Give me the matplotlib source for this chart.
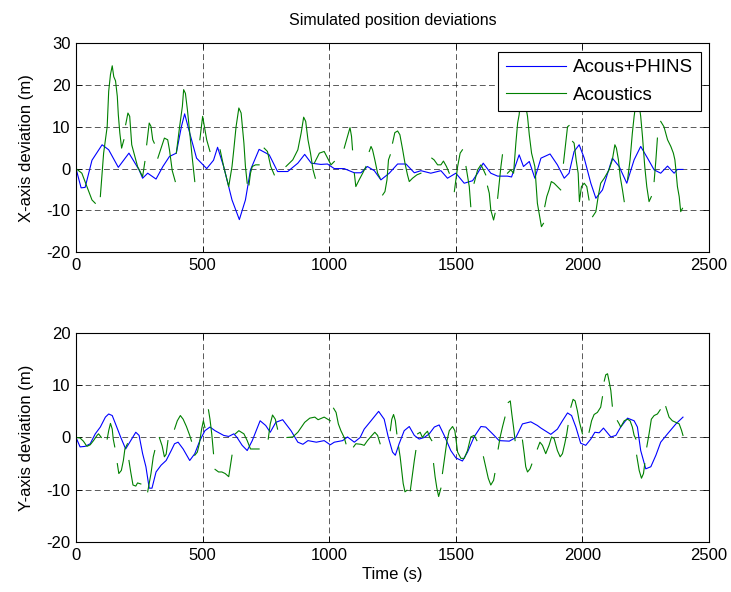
import numpy as np
import matplotlib.pyplot as plt

nan = np.nan

# X-axis deviation, Acous+PHINS (blue)
x_pos_t = [0, 20, 36, 63, 103, 129, 167, 209, 249, 263, 283, 316, 343, 369, 396, 416, 429, 449, 476,
           516, 543, 559, 583, 616, 645, 669, 689, 723, 763, 796, 836, 876, 903, 929, 967, 993, 1020,
           1059, 1099, 1125, 1151, 1178, 1204, 1237, 1270, 1303, 1336, 1362, 1401, 1441, 1467, 1500,
           1533, 1566, 1586, 1608, 1638, 1665, 1704, 1720, 1750, 1767, 1790, 1812, 1836, 1872, 1901,
           1928, 1947, 1967, 1987, 2007, 2033, 2053, 2079, 2118, 2145, 2175, 2204, 2230, 2257, 2283,
           2309, 2336, 2362, 2375, 2397]
x_pos_v = [0, -4.6, -4.5, 2, 5.7, 4.5, 0.3, 3.7, -0.3, -2.3, -1.1, -2.5, 0.5, 2.9, 3.7, 10, 13.1, 8.5, 2.5,
           0, 2, 5.1, 0.5, -7.5, -12.2, -7.5, -0.3, 4.6, 3.3, -0.7, -0.7, 1.3, 3.4, 1.3, 1, 1.1, 0,
           0, -1, -1, 0.5, -0.5, -2.7, -1.1, 1.1, 1.1, -1, -0.5, -1.1, -0.5, -2.3, -1.1,
           -3.5, -2.9, -1.1, 1.3, -1.1, -1.8, -1.8, -2, 3.3, 0.5, 1.7, -2.3, 2.5, 3.5, 0.9,
           -2.3, -1.1, 4.1, 5.7, 2.5, -3.5, -7.1, -5.1, 2.5, 0.5, -3.5, 2.1, 5.3, 2.5, -0.3,
           -1.1, 0.6, -1.1, -0.2, -0.2]

# X-axis deviation, Acoustics only (green, broken where no fix)
x_ac_t = [0, 23, 43, 63, 76, nan,
          96, 109, 123, 129, 136, 143, 149, 156, 163, 167, 173, 180, 189, nan,
          196, 205, 212, 220, 229, 243, 263, 272, nan,
          279, 289, 296, 303, 309, nan,
          323, 336, 349, 362, 369, 380, 392, nan,
          396, 409, 420, 425, 432, 440, 449, 460, 469, nan,
          489, 500, 507, 516, 529, nan,
          569, 583, 603, 616, 623, 632, 643, 652, 663, 669, 676, nan,
          683, 689, 696, 709, 723, nan,
          743, 756, 769, 783, nan,
          829, 856, 876, 889, 899, 907, 916, 926, 936, 945, nan,
          941, 961, 980, 997, 1007, 1020, nan,
          1059, 1072, 1082, 1088, 1092, nan,
          1099, 1105, 1118, 1132, 1145, nan,
          1158, 1165, 1171, 1180, 1191, 1201, nan,
          1211, 1220, 1228, 1234, 1241, nan,
          1250, 1259, 1270, 1279, 1290, 1299, 1309, 1316, 1329, 1346, 1362, nan,
          1405, 1414, 1428, 1441, 1451, 1463, 1474, nan,
          1494, 1500, 1507, 1517, 1526, nan,
          1540, 1553, 1559, nan,
          1572, 1586, 1599, 1609, 1618, nan,
          1625, 1632, 1638, 1649, 1655, nan,
          1665, 1671, 1678, 1684, nan,
          1704, 1717, 1728, 1737, 1744, 1750, 1757, 1770, 1783, 1790, 1799, 1812, 1822, 1829, 1838, 1846, nan,
          1851, 1859, 1868, 1877, 1888, 1901, 1914, nan,
          1925, 1934, 1941, 1947, nan,
          1961, 1967, 1975, 1983, 1988, 1996, 2007, 2017, 2026, nan,
          2040, 2053, 2062, 2072, 2086, 2105, 2118, 2128, 2134, 2142, 2149, 2158, 2165, nan,
          2178, 2188, 2197, 2204, 2212, 2222, 2230, 2237, 2246, 2254, 2263, 2272, nan,
          2283, 2290, 2296, nan,
          2309, 2322, 2336, 2349, 2359, 2365, 2369, 2375, 2382, 2388, 2395]
x_ac_v = [0, -1.1, -4.3, -7.5, -8.3, nan,
          -6.7, 3.7, 10, 18.5, 22.5, 24.6, 22, 21, 17.3, 12.9, 8.5, 4.9, 6.9, nan,
          10.5, 13.3, 12.5, 5.7, 3.7, 0.5, -1.9, 1.7, nan,
          5.7, 10.9, 10.1, 6.9, 6.1, nan,
          2.5, 4.9, 7.3, 6.9, 4.5, -0.5, -3.1, nan,
          3.7, 10, 14.9, 18.9, 18, 14, 8.5, 2, -3.1, nan,
          6.9, 12.5, 10, 6.9, 4.1, nan,
          4.5, 0.5, -4.3, 0.5, 4.5, 10, 14.5, 13.3, 6.1, 0.5, -3.5, nan,
          -3.9, -1.1, 0.5, 0.9, 0.9, nan,
          4.9, 4.1, 0.5, -1.5, nan,
          0.5, 2.1, 4.5, 8.5, 12.3, 11.3, 6.9, 3.7, -0.3, -2.3, nan,
          1.3, 3.7, 4.1, 2.1, 0.9, 1.7, nan,
          4.9, 7.7, 9.8, 7.7, 4.5, nan,
          -1.1, -4.3, -2.7, -1.1, 0.5, nan,
          4.1, 5.3, 4.5, 2.1, -1.1, -2.3, nan,
          -6.3, -5.5, -2.7, 2.1, 3.3, nan,
          6.1, 8.6, 9, 8.1, 4.5, 1.3, -1.5, -3.1, -2.3, -1.5, -1.1, nan,
          2.5, 2.1, 0.9, 0.9, 1.8, 0.5, -1.1, nan,
          -5.5, -2.7, 0.5, 3.7, 4.5, nan,
          0.5, -4.3, -9.1, nan,
          -3.5, -0.3, 0.9, -0.3, -1.5, nan,
          -4.2, -5.9, -9.9, -12.3, -10.7, nan,
          -7.1, -3.5, 0.5, 3.3, nan,
          -1.1, -0.3, -1.1, 6.1, 10.9, 12.9, 18, 17, 12.5, 8.1, 3.7, 0.5, -8.3, -10.7, -13.9, -13.1, nan,
          -9.1, -6.7, -5.1, -3.1, -3.5, -4.3, -5.1, nan,
          1.3, 6.1, 10, 10.3, nan,
          6.5, 6.1, 2.1, -1.1, -7.9, -4.3, -3.5, -4.3, -7.5, nan,
          -11.5, -10.3, -6.7, -3.5, -2.3, -0.3, 2.1, 5.7, 4.9, 2.1, -1.9, -5.1, -7.9, nan,
          -2.7, 2.1, 8.5, 12.5, 16, 16, 12.5, 7.7, 0.5, -4.3, -7.9, -6.7, nan,
          -3.1, 2.1, 7.3, nan,
          11.3, 10, 6.9, 5.3, 3.7, 2.1, -0.3, -4.3, -6.7, -10.3, -9.5]

# Y-axis deviation, Acous+PHINS (blue)
y_pos_t = [0, 16, 36, 56, 76, 96, 116, 129, 143, 156, 176, 196, 216, 236, 249, 263, 276, 289, 300, 316,
           336, 356, 376, 389, 403, 423, 449, 469, 489, 509, 529, 549, 583, 603, 623, 636, 656, 676,
           696, 727, 749, 767, 789, 816, 849, 876, 896, 916, 949, 980, 1004, 1020, 1053, 1072, 1099,
           1122, 1138, 1165, 1195, 1217, 1233, 1250, 1261, 1276, 1296, 1316, 1336, 1355, 1375, 1395,
           1415, 1434, 1454, 1480, 1500, 1526, 1546, 1572, 1599, 1618, 1645, 1671, 1711, 1737, 1763,
           1796, 1822, 1836, 1875, 1901, 1921, 1941, 1957, 1974, 1993, 2013, 2033, 2049, 2066, 2083,
           2112, 2132, 2151, 2178, 2204, 2217, 2230, 2250, 2270, 2290, 2309, 2336, 2369, 2397]
y_pos_v = [0, -1.8, -1.7, -1.2, 0.7, 2, 3.9, 4.5, 4.2, 2.6, 0.1, -2.2, -0.6, 1, 0.4, -3.1, -5.6, -9.7, -9.7, -6.6,
           -5.3, -4.4, -2.5, -1.2, -0.9, -2.2, -4.4, -3.1, -0.6, 1.3, 2, 1.3, 0.4, 0.2, 0.7, 0, -1.5, -2.5,
           -0.6, 3.2, 2.3, 1, 2.9, 3.4, 1.3, -0.9, -1.3, -0.6, -0.9, -0.6, -1.4, -0.9, -0.6, 0.1, -0.9,
           0, 1.6, 3.2, 5, 3.5, 0.1, -2.8, -3.4, -1.2, 1.3, 2.1, 0.4, -0.3, 0, 0.7,
           2, 2.4, 0.4, -2.5, -3.9, -4.5, -2.8, 0.1, 2.1, 2, 0.7, -0.6, -0.7, 0, 2.6,
           3, 2.3, 1.8, 0.6, 1.6, 3.2, 4.7, 4.2, 2, -1.1, -1.5, -0.3, 1, 0.9, 1.8,
           0.1, 0.4, 2, 3.7, 3.2, 2, -2.5, -6, -5.6, -3.4, -0.9, 0.7, 2.6, 3.9]

# Y-axis deviation, Acoustics only (green)
y_ac_t = [0, 16, 29, 43, 56, 69, 83, 89, 100, nan,
          123, 129, 136, 143, 147, 153, nan,
          163, 169, 179, 187, 193, 203, nan,
          209, 216, 225, 236, 243, 256, nan,
          283, 289, 296, 305, 311, nan,
          329, 340, 349, 356, 363, nan,
          389, 400, 412, 423, 436, 449, 456, nan,
          469, 479, 487, 496, 503, 509, nan,
          523, 529, 536, 543, nan,
          549, 563, 576, 589, 603, 609, 616, nan,
          629, 643, 663, 676, 689, 709, 723, nan,
          759, 767, 776, 787, 796, nan,
          833, 856, 876, 903, 923, 943, 956, 980, 1004, nan,
          1017, 1027, 1036, 1046, 1059, 1066, nan,
          1096, 1105, 1125, 1138, 1151, 1165, 1180, 1191, 1201, nan,
          1241, 1247, 1254, 1261, 1267, nan,
          1274, 1280, 1286, 1292, 1299, 1307, nan,
          1320, 1329, 1336, 1342, nan,
          1349, 1359, 1368, 1378, 1388, 1397, 1405, nan,
          1412, 1418, 1425, 1432, 1441, nan,
          1447, 1454, 1465, 1474, 1487, 1496, 1507, 1520, 1533, 1546, 1559, 1572, 1583, nan,
          1609, 1618, 1628, 1638, 1649, 1654, nan,
          1667, 1675, 1684, 1694, nan,
          1707, 1715, 1721, 1728, 1734, nan,
          1763, 1770, 1776, 1783, 1793, 1800, nan,
          1822, 1832, 1842, 1855, 1868, 1878, 1888, 1901, 1912, 1921, 1930, 1938, 1943, nan,
          1954, 1963, 1971, 1980, 1987, 1993, 2000, nan,
          2026, 2036, 2046, 2059, 2072, 2079, nan,
          2086, 2092, 2099, 2105, 2112, 2118, nan,
          2138, 2145, 2151, 2165, 2178, 2188, 2197, 2204, 2211, nan,
          2214, 2224, 2233, 2241, 2246, nan,
          2254, 2263, 2272, 2283, 2296, 2307, nan,
          2329, 2342, 2355, 2369, 2382, 2391, 2397]
y_ac_v = [0, -0.1, -0.7, -1.7, -1.4, -0.6, 0.4, 0.7, 0, nan,
          -0.3, 1.3, 2.7, 1.6, -0.3, -1.8, nan,
          -5, -6.9, -6.3, -4.4, -2.2, -1.2, nan,
          -4.4, -6.6, -9.1, -9.3, -8.7, -8.9, nan,
          -10.4, -8.8, -6.9, -3.7, -2.5, nan,
          0, -1.6, -3.7, -3.2, -0.6, nan,
          1.6, 3.2, 4.2, 3.5, 2.1, 0.4, -0.7, nan,
          -3.4, -2.8, -1.2, 1.6, 3.2, 1.9, nan,
          5.3, 3.5, 0.7, -3.1, nan,
          -6.1, -6.6, -6.6, -6.9, -7.5, -5.6, -3.4, nan,
          0.7, 1.3, 0.7, -0.6, -2.2, -2.2, -2.2, nan,
          -0.3, 2.6, 4.3, 3.5, 1.6, nan,
          0, 0.1, 1, 2.9, 3.7, 3.9, 3.4, 3.9, 3.2, nan,
          5.6, 4.8, 2.6, 1.3, 0, -1.2, nan,
          -1.8, -1.2, -1.3, -1.5, -0.6, 0.2, 1, 0.4, -1.2, nan,
          1.3, 3.5, 4.4, 3.2, 0.7, nan,
          -1.8, -3.7, -6.3, -8.8, -10.4, -10.1, nan,
          -10.2, -6.9, -4.4, -2.5, nan,
          0.7, 1, 0, 0.7, 1.2, 0, -0.6, nan,
          -5, -7.5, -9.7, -11.3, -9.7, nan,
          -6.9, -4.4, -0.6, 1.3, 2.1, 1.3, -2.8, -4, -4, -2.5, 0.1, 0.4, -0.6, nan,
          -3.7, -5.6, -7.8, -9.1, -8.2, -6.9, nan,
          -2.2, 0.1, 2, 3.9, nan,
          6.7, 7, 4.5, 1.9, -0.6, nan,
          -0.5, -3.1, -5.6, -6.6, -6, -5.1, nan,
          -2.2, -0.9, -1.5, -3.1, -1.5, 0.1, -0.2, -2.5, -3.7, -3.1, -1.2, 0.7, 2.3, nan,
          5.8, 7.3, 7, 5.1, 3.2, 2, 0.7, nan,
          1, 3.2, 4.4, 4.8, 5.8, 7.8, nan,
          10.8, 12, 12.2, 10.8, 9, 6, nan,
          3.2, 2.6, 2, 3.2, 3.5, 3.2, 2, 0.4, -0.3, nan,
          -3.4, -6.3, -7.8, -6.9, -5, nan,
          -1.8, 0.7, 3.5, 4.2, 4.5, 5.3, nan,
          5.9, 3.9, 3.2, 2.9, 2.6, 1.4, 0.4]

blue = (0, 0, 1)
green = (0, 0.5, 0)

plt.rcParams['font.family'] = ['Liberation Sans', 'DejaVu Sans']
plt.rcParams['axes.unicode_minus'] = False

fig = plt.figure(figsize=(7.31, 5.92), dpi=100)

ax1 = fig.add_axes([0.104, 0.574, 0.866, 0.353])
ax2 = fig.add_axes([0.104, 0.0845, 0.866, 0.353])

ax1.plot(x_pos_t, x_pos_v, color=blue, lw=0.8, label='Acous+PHINS')
ax1.plot(x_ac_t, x_ac_v, color=green, lw=0.8, label='Acoustics')
ax2.plot(y_pos_t, y_pos_v, color=blue, lw=0.8)
ax2.plot(y_ac_t, y_ac_v, color=green, lw=0.8)

ax1.set_ylim(-20, 30)
ax1.set_yticks([-20, -10, 0, 10, 20, 30])
ax2.set_ylim(-20, 20)
ax2.set_yticks([-20, -10, 0, 10, 20])

for ax in (ax1, ax2):
    ax.set_xlim(0, 2500)
    ax.set_xticks([0, 500, 1000, 1500, 2000, 2500])
    ax.grid(True, color='black', linestyle=(0, (7, 4)), lw=0.6, alpha=0.75)
    ax.tick_params(direction='in', top=True, right=True, labelsize=12, length=4, width=0.6, pad=4)
    for s in ax.spines.values():
        s.set_linewidth(0.8)

ax1.set_title('Simulated position deviations', fontsize=11.5, pad=13)
ax1.set_ylabel('X-axis deviation (m)', fontsize=12, labelpad=9)
ax2.set_ylabel('Y-axis deviation (m)', fontsize=12, labelpad=9)
ax2.set_xlabel('Time (s)', fontsize=12, labelpad=3)

leg = ax1.legend(loc='upper right', fontsize=13.5, fancybox=False, framealpha=1,
                 edgecolor='black', borderaxespad=0.45, handlelength=3.2,
                 handletextpad=0.4, borderpad=0.4, labelspacing=0.55)
leg.get_frame().set_linewidth(0.8)

fig.savefig('out.png', dpi=100)
